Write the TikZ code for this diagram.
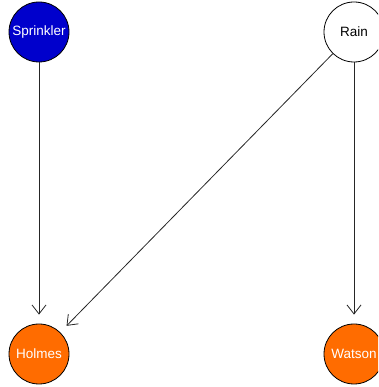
\documentclass[tikz,border=0pt]{standalone}
\usepackage{fontspec}
\setmainfont{Liberation Sans}
\usepackage{xcolor}
\usetikzlibrary{positioning,calc,arrows.meta}

\definecolor{sprinklerblue}{RGB}{0,0,204}
\definecolor{evidenceorange}{RGB}{255,108,0}

\tikzset{
    var/.style={circle, draw=black, line width=0.8pt, minimum size=60pt, inner sep=0pt,
        font=\fontsize{13.5}{16}\selectfont},
    edge/.style={-{Straight Barb[length=9pt,width=14pt,line width=0.8pt]}, line width=0.8pt,
        draw=black!85, shorten >=9pt}
}

\begin{document}
\begin{tikzpicture}[x=1pt, y=1pt]
    \useasboundingbox (0,0) rectangle (378,387);
    \clip (0,0) rectangle (378,387);

    % parents
    \node[var, fill=sprinklerblue, text=white] (sprinkler) at (39,355) {Sprinkler};
    \node[var, fill=white] (rain) at (354,355) {Rain};

    % children
    \node[var, fill=evidenceorange, text=white] (holmes) at (39,33) {Holmes};
    \node[var, fill=evidenceorange, text=white] (watson) at (354,33) {Watson};

    \draw[edge] (sprinkler) -- (holmes);
    \draw[edge] (rain) -- (holmes);
    \draw[edge] (rain) -- (watson);
\end{tikzpicture}
\end{document}
